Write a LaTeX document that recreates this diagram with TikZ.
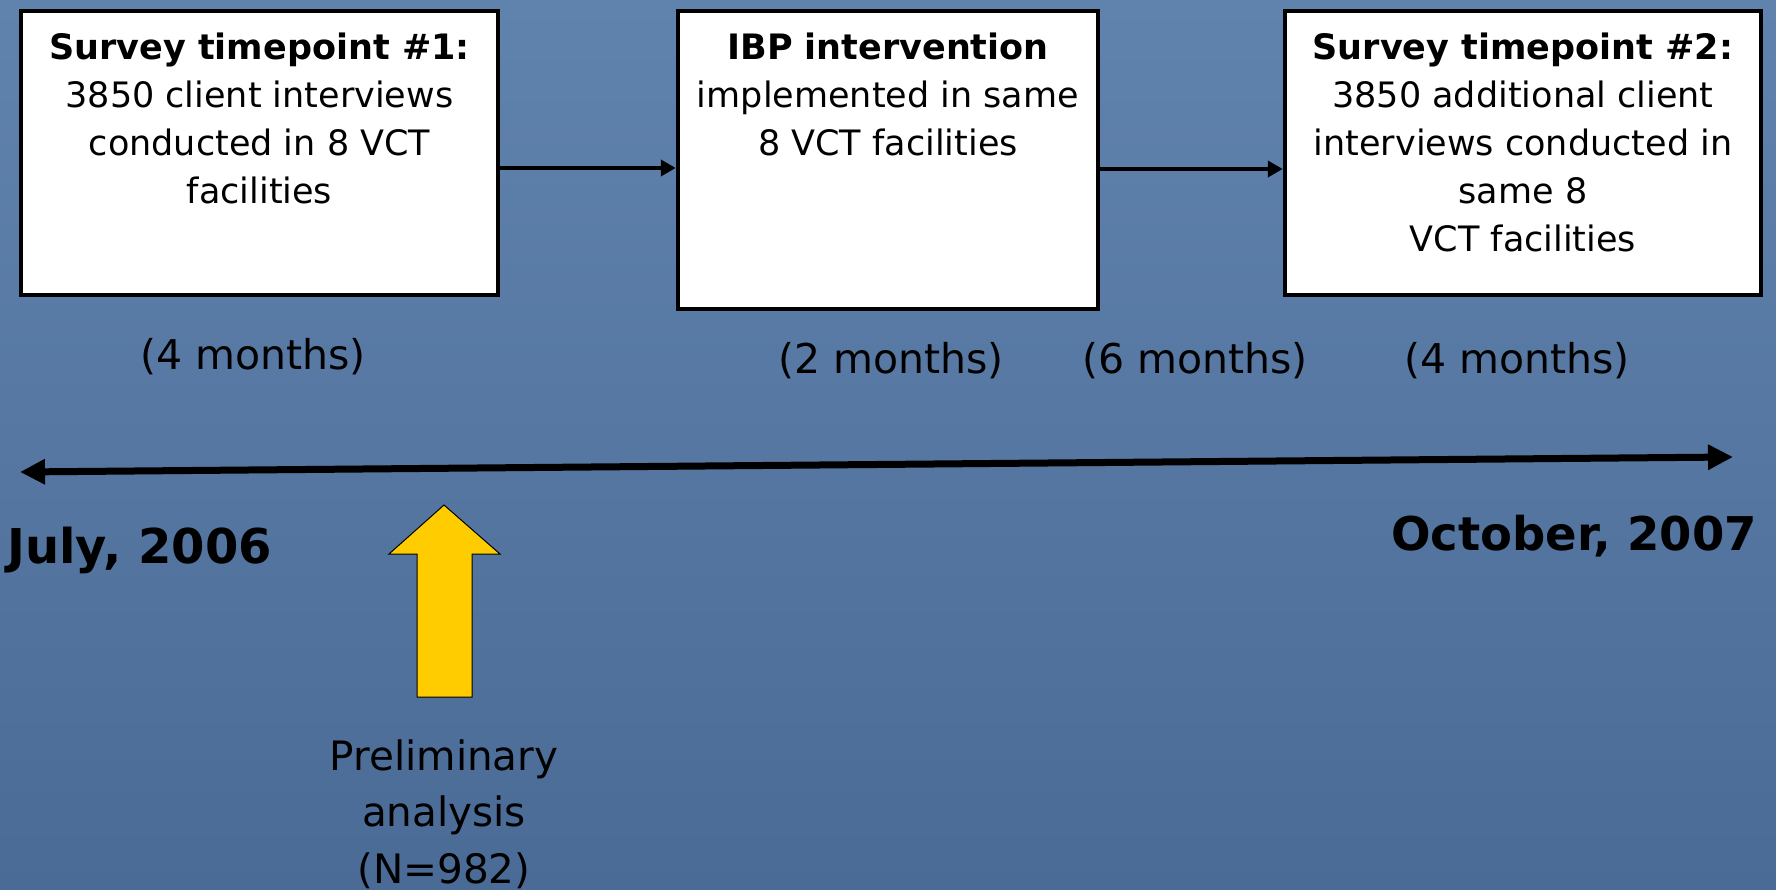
\documentclass[tikz,border=0pt]{standalone}
\usepackage{fontspec}
\setmainfont{DejaVu Sans}
\usetikzlibrary{arrows.meta,calc}
\definecolor{bgtop}{HTML}{6083AD}
\definecolor{bgbot}{HTML}{4A6B95}
\definecolor{arrowyellow}{HTML}{FFCC00}
\begin{document}
\begin{tikzpicture}[x=1pt,y=-1pt,
  stagebox/.style={draw=black, line width=4.5pt, fill=white, inner sep=0pt},
  boxtext/.style={align=center, inner sep=0pt, anchor=base, font=\fontsize{35}{48}\selectfont},
  conn/.style={line width=4.5pt, -{Triangle[length=15pt,width=16pt]}},
  timeline/.style={line width=7pt, {Triangle[length=25pt,width=24pt]}-{Triangle[length=25pt,width=24pt]}},
  monthtext/.style={anchor=base, inner sep=0pt, font=\fontsize{41}{48}\selectfont},
  datetext/.style={inner sep=0pt, font=\bfseries\fontsize{48}{56}\selectfont},
  prelimtext/.style={align=center, inner sep=0pt, anchor=base, font=\fontsize{40.5}{56.5}\selectfont}
]
\fill[top color=bgtop, bottom color=bgbot] (0,0) rectangle (1776,890);
\useasboundingbox (0,0) rectangle (1776,890);

% boxes
\node[stagebox, minimum width=477pt, minimum height=284pt] (b1) at (259.5,153) {};
\node[stagebox, minimum width=420pt, minimum height=298pt] (b2) at (888,160) {};
\node[stagebox, minimum width=476pt, minimum height=284pt] (b3) at (1523,153) {};

% box texts (base anchor = baseline of the last line)
\node[boxtext] (t1) at (259.5,204) {\textbf{Survey timepoint \#1:}\\3850 client interviews\\conducted in 8 VCT\\facilities};
\node[boxtext] (t2) at (888,156) {\textbf{IBP intervention}\\implemented in same\\8 VCT facilities};
\node[boxtext] (t3) at (1523,252) {\textbf{Survey timepoint \#2:}\\3850 additional client\\interviews conducted in\\same 8\\VCT facilities};

% connectors
\draw[conn] ([yshift=-15pt]b1.east) -- ([yshift=-15pt]b1.east -| b2.west);
\draw[conn] ([yshift=-9pt]b2.east) -- ([yshift=-9pt]b2.east -| b3.west);

% durations
\node[monthtext] (m1) at (253,369) {(4 months)};
\node[monthtext] (m2) at (891,373) {(2 months)};
\node[monthtext] (m3) at (1195,373) {(6 months)};
\node[monthtext] (m4) at (1517,373) {(4 months)};

% timeline
\coordinate (tlL) at (20,472);
\coordinate (tlR) at (1733,457);
\draw[timeline] (tlL) -- (tlR);

\node[datetext, anchor=base west] (jul) at (7,563) {July, 2006};
\node[datetext, anchor=base east, font=\bfseries\fontsize{46.5}{56}\selectfont] (oct) at (1757,550) {October, 2007};

% yellow arrow
\filldraw[fill=arrowyellow, draw=black, line width=1pt]
  (417,697) -- (417,554) -- (389,554) -- (444,505) -- (500,554) -- (472,554) -- (472,697) -- cycle;

\node[prelimtext] (prelim) at (444,883) {Preliminary\\analysis\\(N=982)};
\end{tikzpicture}
\end{document}
